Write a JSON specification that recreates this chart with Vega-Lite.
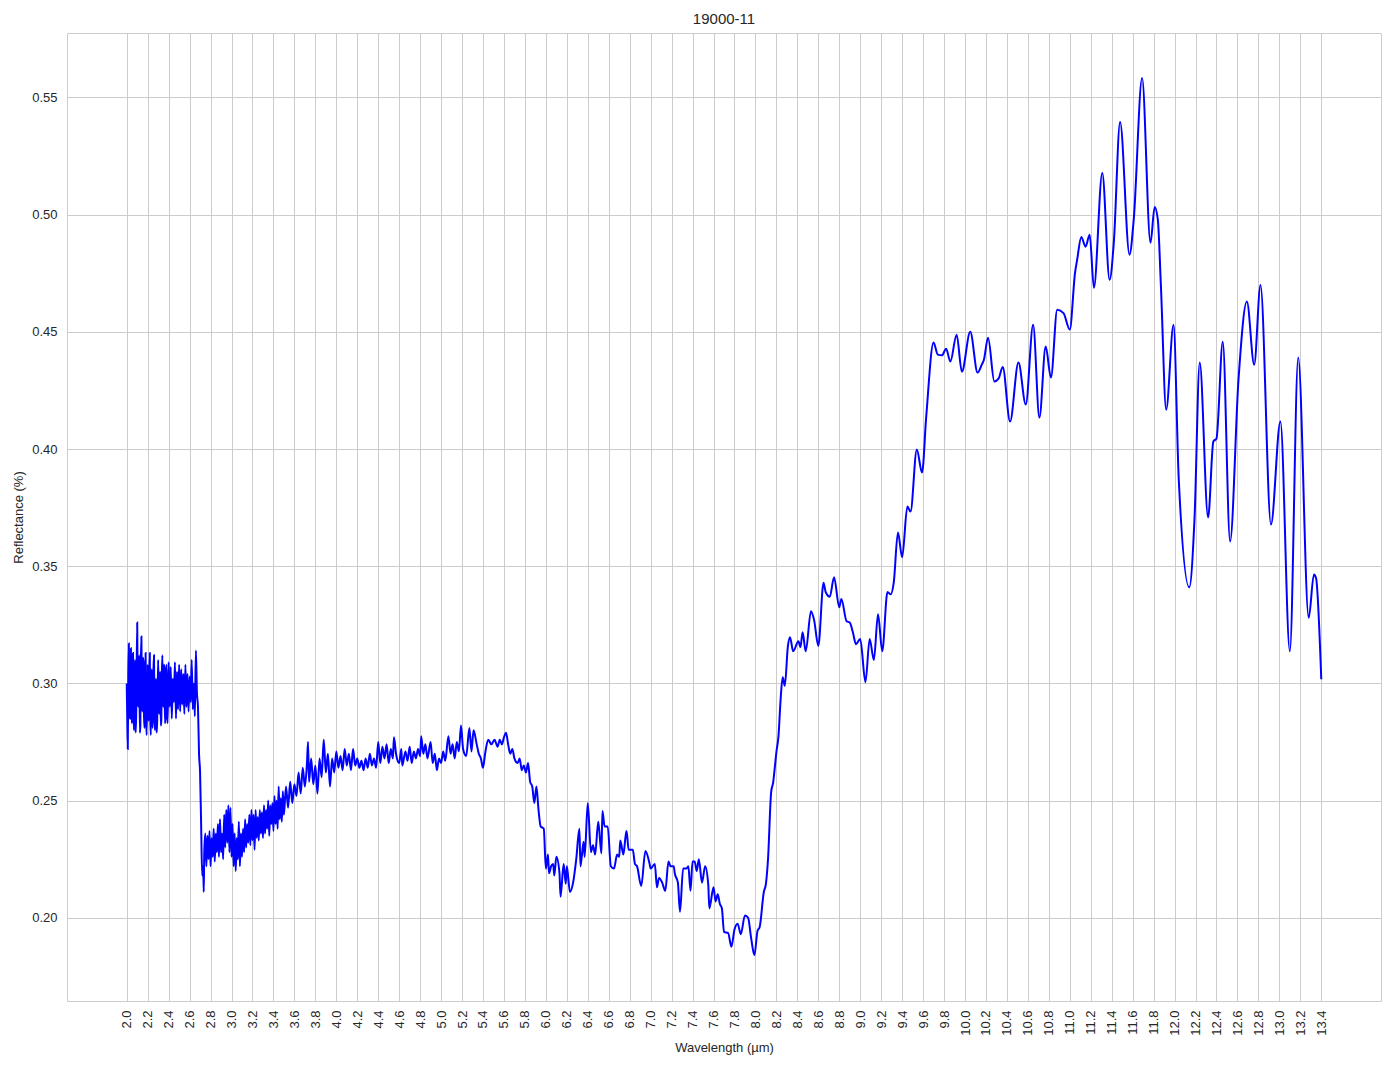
{
  "$schema": "https://vega.github.io/schema/vega-lite/v6.json",
  "width": 1314,
  "height": 968,
  "autosize": {"type": "none"},
  "padding": {"left": 67, "top": 33, "right": 13, "bottom": 68},
  "background": "white",
  "title": {"text": "19000-11", "fontSize": 15, "font": "Liberation Sans", "fontWeight": "normal", "color": "#262626", "offset": 6, "anchor": "middle"},
  "config": {
    "view": {"stroke": "#cccccc", "strokeWidth": 1},
    "axis": {"gridColor": "#cccccc", "gridWidth": 1, "domain": false, "ticks": false, "labelFont": "Liberation Sans", "titleFont": "Liberation Sans", "labelColor": "#262626", "titleColor": "#262626", "labelFontSize": 13, "titleFontSize": 13, "titleFontWeight": "normal"}
  },
  "data": {"values": [
{"w":2.00,"r":0.300},{"w":2.005,"r":0.285},{"w":2.01,"r":0.272},{"w":2.015,"r":0.304},{"w":2.02,"r":0.317},{"w":2.025,"r":0.292},{"w":2.03,"r":0.285},{"w":2.035,"r":0.309},{"w":2.04,"r":0.315},{"w":2.045,"r":0.289},{"w":2.05,"r":0.283},{"w":2.055,"r":0.306},{"w":2.06,"r":0.313},{"w":2.065,"r":0.286},{"w":2.07,"r":0.280},{"w":2.075,"r":0.303},{"w":2.08,"r":0.310},{"w":2.085,"r":0.279},{"w":2.09,"r":0.286},
{"w":2.10,"r":0.326},{"w":2.105,"r":0.296},{"w":2.11,"r":0.290},{"w":2.115,"r":0.305},{"w":2.12,"r":0.312},{"w":2.125,"r":0.279},{"w":2.13,"r":0.282},{"w":2.135,"r":0.309},{"w":2.14,"r":0.320},{"w":2.145,"r":0.293},{"w":2.15,"r":0.288},{"w":2.155,"r":0.311},{"w":2.16,"r":0.309},{"w":2.165,"r":0.286},{"w":2.17,"r":0.281},{"w":2.175,"r":0.300},{"w":2.18,"r":0.313},{"w":2.185,"r":0.285},{"w":2.19,"r":0.278},
{"w":2.20,"r":0.308},{"w":2.205,"r":0.291},{"w":2.21,"r":0.284},{"w":2.215,"r":0.303},{"w":2.22,"r":0.313},{"w":2.225,"r":0.285},{"w":2.23,"r":0.278},{"w":2.235,"r":0.299},{"w":2.24,"r":0.306},{"w":2.245,"r":0.281},{"w":2.25,"r":0.287},{"w":2.255,"r":0.305},{"w":2.26,"r":0.312},{"w":2.265,"r":0.286},{"w":2.27,"r":0.280},{"w":2.275,"r":0.297},{"w":2.28,"r":0.302},{"w":2.285,"r":0.279},{"w":2.29,"r":0.283},
{"w":2.30,"r":0.310},{"w":2.305,"r":0.293},{"w":2.31,"r":0.287},{"w":2.315,"r":0.301},{"w":2.32,"r":0.305},{"w":2.325,"r":0.282},{"w":2.33,"r":0.284},{"w":2.335,"r":0.303},{"w":2.34,"r":0.312},{"w":2.345,"r":0.294},{"w":2.35,"r":0.290},{"w":2.355,"r":0.308},{"w":2.36,"r":0.306},{"w":2.365,"r":0.283},{"w":2.37,"r":0.286},{"w":2.375,"r":0.304},{"w":2.38,"r":0.308},{"w":2.385,"r":0.288},{"w":2.39,"r":0.283},
{"w":2.40,"r":0.309},{"w":2.41,"r":0.290},{"w":2.42,"r":0.307},{"w":2.43,"r":0.285},{"w":2.44,"r":0.302},{"w":2.45,"r":0.292},{"w":2.46,"r":0.309},{"w":2.47,"r":0.285},{"w":2.48,"r":0.305},{"w":2.49,"r":0.289},
{"w":2.50,"r":0.308},{"w":2.51,"r":0.288},{"w":2.52,"r":0.306},{"w":2.53,"r":0.291},{"w":2.54,"r":0.304},{"w":2.55,"r":0.287},{"w":2.56,"r":0.308},{"w":2.57,"r":0.290},{"w":2.58,"r":0.304},{"w":2.59,"r":0.288},
{"w":2.60,"r":0.303},{"w":2.61,"r":0.292},{"w":2.62,"r":0.310},{"w":2.63,"r":0.289},{"w":2.64,"r":0.300},{"w":2.65,"r":0.286},{"w":2.66,"r":0.314},{"w":2.67,"r":0.296},{"w":2.68,"r":0.290},{"w":2.69,"r":0.270},
{"w":2.70,"r":0.262},{"w":2.71,"r":0.240},{"w":2.72,"r":0.218},{"w":2.73,"r":0.222},{"w":2.735,"r":0.211},{"w":2.74,"r":0.228},
{"w":2.75,"r":0.236},{"w":2.76,"r":0.222},{"w":2.77,"r":0.235},{"w":2.78,"r":0.225},{"w":2.79,"r":0.237},{"w":2.80,"r":0.222},{"w":2.81,"r":0.234},{"w":2.82,"r":0.226},{"w":2.83,"r":0.238},{"w":2.84,"r":0.224},
{"w":2.85,"r":0.236},{"w":2.86,"r":0.228},{"w":2.87,"r":0.240},{"w":2.88,"r":0.226},{"w":2.89,"r":0.242},{"w":2.90,"r":0.228},{"w":2.91,"r":0.236},{"w":2.92,"r":0.225},{"w":2.93,"r":0.244},{"w":2.94,"r":0.230},
{"w":2.95,"r":0.246},{"w":2.96,"r":0.232},{"w":2.97,"r":0.248},{"w":2.98,"r":0.228},{"w":2.99,"r":0.247},{"w":3.00,"r":0.226},{"w":3.01,"r":0.240},{"w":3.02,"r":0.222},{"w":3.03,"r":0.236},{"w":3.04,"r":0.220},
{"w":3.05,"r":0.234},{"w":3.06,"r":0.225},{"w":3.07,"r":0.241},{"w":3.08,"r":0.222},{"w":3.09,"r":0.236},{"w":3.10,"r":0.226},{"w":3.11,"r":0.238},{"w":3.12,"r":0.228},{"w":3.13,"r":0.242},{"w":3.14,"r":0.230},
{"w":3.15,"r":0.240},{"w":3.16,"r":0.232},{"w":3.17,"r":0.244},{"w":3.18,"r":0.231},{"w":3.19,"r":0.246},{"w":3.20,"r":0.233},{"w":3.21,"r":0.244},{"w":3.22,"r":0.229},{"w":3.23,"r":0.246},{"w":3.24,"r":0.234},
{"w":3.25,"r":0.243},{"w":3.26,"r":0.233},{"w":3.27,"r":0.246},{"w":3.28,"r":0.236},{"w":3.29,"r":0.245},{"w":3.30,"r":0.234},{"w":3.31,"r":0.248},{"w":3.32,"r":0.236},{"w":3.33,"r":0.246},{"w":3.34,"r":0.238},
{"w":3.35,"r":0.250},{"w":3.36,"r":0.235},{"w":3.37,"r":0.248},{"w":3.38,"r":0.240},{"w":3.39,"r":0.249},{"w":3.40,"r":0.237},{"w":3.41,"r":0.252},{"w":3.42,"r":0.240},{"w":3.43,"r":0.250},{"w":3.44,"r":0.238},
{"w":3.45,"r":0.256},{"w":3.46,"r":0.242},{"w":3.47,"r":0.251},{"w":3.48,"r":0.241},{"w":3.49,"r":0.254},{"w":3.50,"r":0.244},{"w":3.52,"r":0.256},{"w":3.54,"r":0.247},{"w":3.56,"r":0.258},{"w":3.58,"r":0.249},
{"w":3.60,"r":0.257},{"w":3.62,"r":0.252},{"w":3.64,"r":0.262},{"w":3.66,"r":0.253},{"w":3.68,"r":0.264},{"w":3.70,"r":0.256},{"w":3.72,"r":0.266},{"w":3.73,"r":0.275},{"w":3.74,"r":0.258},{"w":3.76,"r":0.268},
{"w":3.78,"r":0.257},{"w":3.80,"r":0.265},{"w":3.82,"r":0.253},{"w":3.84,"r":0.268},{"w":3.86,"r":0.260},{"w":3.88,"r":0.276},{"w":3.90,"r":0.262},{"w":3.92,"r":0.270},{"w":3.94,"r":0.256},{"w":3.96,"r":0.268},
{"w":3.98,"r":0.262},{"w":4.00,"r":0.271},{"w":4.02,"r":0.264},{"w":4.04,"r":0.269},{"w":4.06,"r":0.263},{"w":4.08,"r":0.272},{"w":4.10,"r":0.265},{"w":4.12,"r":0.270},{"w":4.14,"r":0.263},{"w":4.16,"r":0.272},
{"w":4.18,"r":0.265},{"w":4.20,"r":0.268},{"w":4.22,"r":0.264},{"w":4.24,"r":0.267},{"w":4.26,"r":0.263},{"w":4.28,"r":0.268},{"w":4.30,"r":0.264},{"w":4.32,"r":0.270},{"w":4.34,"r":0.265},{"w":4.36,"r":0.268},
{"w":4.38,"r":0.264},{"w":4.40,"r":0.275},{"w":4.42,"r":0.266},{"w":4.44,"r":0.273},{"w":4.46,"r":0.268},{"w":4.48,"r":0.274},{"w":4.50,"r":0.266},{"w":4.52,"r":0.272},{"w":4.54,"r":0.268},{"w":4.55,"r":0.277},
{"w":4.57,"r":0.270},{"w":4.60,"r":0.266},{"w":4.62,"r":0.272},{"w":4.63,"r":0.265},{"w":4.66,"r":0.271},{"w":4.68,"r":0.267},{"w":4.70,"r":0.273},{"w":4.72,"r":0.266},{"w":4.74,"r":0.271},{"w":4.76,"r":0.268},
{"w":4.78,"r":0.272},{"w":4.80,"r":0.269},{"w":4.81,"r":0.2775},{"w":4.83,"r":0.270},{"w":4.85,"r":0.274},{"w":4.87,"r":0.268},{"w":4.90,"r":0.275},{"w":4.92,"r":0.266},{"w":4.94,"r":0.270},{"w":4.96,"r":0.263},
{"w":4.98,"r":0.268},{"w":5.00,"r":0.266},{"w":5.02,"r":0.271},{"w":5.04,"r":0.267},{"w":5.07,"r":0.2775},{"w":5.09,"r":0.270},{"w":5.11,"r":0.274},{"w":5.13,"r":0.268},{"w":5.15,"r":0.275},{"w":5.17,"r":0.271},
{"w":5.19,"r":0.282},{"w":5.21,"r":0.272},{"w":5.24,"r":0.269},{"w":5.27,"r":0.281},{"w":5.29,"r":0.271},{"w":5.31,"r":0.280},{"w":5.34,"r":0.274},{"w":5.36,"r":0.270},{"w":5.38,"r":0.268},{"w":5.40,"r":0.264},
{"w":5.42,"r":0.270},{"w":5.45,"r":0.276},{"w":5.48,"r":0.274},{"w":5.51,"r":0.276},{"w":5.54,"r":0.273},{"w":5.56,"r":0.276},{"w":5.58,"r":0.274},{"w":5.60,"r":0.277},{"w":5.62,"r":0.279},{"w":5.64,"r":0.274},
{"w":5.66,"r":0.270},{"w":5.68,"r":0.272},{"w":5.70,"r":0.268},{"w":5.73,"r":0.266},{"w":5.75,"r":0.268},{"w":5.77,"r":0.263},{"w":5.79,"r":0.265},{"w":5.81,"r":0.262},{"w":5.83,"r":0.266},{"w":5.85,"r":0.258},
{"w":5.87,"r":0.256},{"w":5.89,"r":0.249},{"w":5.91,"r":0.256},{"w":5.93,"r":0.246},{"w":5.95,"r":0.239},{"w":5.98,"r":0.238},{"w":6.00,"r":0.221},{"w":6.02,"r":0.227},{"w":6.03,"r":0.219},{"w":6.05,"r":0.222},
{"w":6.07,"r":0.223},{"w":6.08,"r":0.218},{"w":6.10,"r":0.226},{"w":6.13,"r":0.219},{"w":6.14,"r":0.209},{"w":6.17,"r":0.223},{"w":6.19,"r":0.2145},{"w":6.20,"r":0.222},{"w":6.23,"r":0.211},{"w":6.26,"r":0.215},
{"w":6.29,"r":0.225},{"w":6.32,"r":0.238},{"w":6.33,"r":0.222},{"w":6.36,"r":0.2324},{"w":6.37,"r":0.226},{"w":6.40,"r":0.249},{"w":6.43,"r":0.228},{"w":6.45,"r":0.231},{"w":6.47,"r":0.227},{"w":6.50,"r":0.241},
{"w":6.53,"r":0.2275},{"w":6.54,"r":0.2456},{"w":6.56,"r":0.239},{"w":6.59,"r":0.239},{"w":6.62,"r":0.222},{"w":6.65,"r":0.221},{"w":6.68,"r":0.227},{"w":6.70,"r":0.226},{"w":6.71,"r":0.233},{"w":6.74,"r":0.227},
{"w":6.76,"r":0.2345},{"w":6.77,"r":0.237},{"w":6.79,"r":0.229},{"w":6.83,"r":0.229},{"w":6.85,"r":0.223},{"w":6.87,"r":0.222},{"w":6.91,"r":0.2136},{"w":6.95,"r":0.2285},{"w":6.99,"r":0.223},{"w":7.00,"r":0.221},
{"w":7.04,"r":0.223},{"w":7.06,"r":0.213},{"w":7.08,"r":0.217},{"w":7.11,"r":0.215},{"w":7.14,"r":0.2115},{"w":7.17,"r":0.224},{"w":7.19,"r":0.222},{"w":7.22,"r":0.222},{"w":7.23,"r":0.219},{"w":7.26,"r":0.215},
{"w":7.28,"r":0.2026},{"w":7.31,"r":0.221},{"w":7.34,"r":0.221},{"w":7.36,"r":0.222},{"w":7.38,"r":0.2115},{"w":7.40,"r":0.224},{"w":7.42,"r":0.224},{"w":7.44,"r":0.220},{"w":7.46,"r":0.225},{"w":7.49,"r":0.215},
{"w":7.52,"r":0.222},{"w":7.55,"r":0.214},{"w":7.56,"r":0.204},{"w":7.60,"r":0.213},{"w":7.62,"r":0.207},{"w":7.64,"r":0.210},{"w":7.66,"r":0.206},{"w":7.68,"r":0.204},{"w":7.70,"r":0.194},{"w":7.74,"r":0.1935},
{"w":7.77,"r":0.1876},{"w":7.80,"r":0.195},{"w":7.83,"r":0.1975},{"w":7.86,"r":0.193},{"w":7.90,"r":0.201},{"w":7.93,"r":0.200},{"w":7.96,"r":0.191},{"w":7.99,"r":0.184},{"w":8.02,"r":0.1945},{"w":8.04,"r":0.196},
{"w":8.08,"r":0.211},{"w":8.10,"r":0.2145},{"w":8.12,"r":0.225},{"w":8.15,"r":0.2536},{"w":8.17,"r":0.258},{"w":8.18,"r":0.262},{"w":8.20,"r":0.2707},{"w":8.22,"r":0.2775},{"w":8.24,"r":0.293},{"w":8.26,"r":0.3026},
{"w":8.28,"r":0.299},{"w":8.31,"r":0.316},{"w":8.33,"r":0.3197},{"w":8.36,"r":0.3137},{"w":8.41,"r":0.318},{"w":8.43,"r":0.3155},{"w":8.45,"r":0.3218},{"w":8.48,"r":0.3137},{"w":8.53,"r":0.3308},{"w":8.56,"r":0.327},
{"w":8.60,"r":0.316},{"w":8.65,"r":0.343},{"w":8.67,"r":0.339},{"w":8.71,"r":0.337},{"w":8.75,"r":0.3453},{"w":8.80,"r":0.3325},{"w":8.82,"r":0.336},{"w":8.87,"r":0.3265},{"w":8.90,"r":0.326},{"w":8.93,"r":0.3218},
{"w":8.96,"r":0.3167},{"w":9.00,"r":0.319},{"w":9.05,"r":0.3005},{"w":9.09,"r":0.319},{"w":9.13,"r":0.310},{"w":9.17,"r":0.3295},{"w":9.21,"r":0.3137},{"w":9.26,"r":0.339},{"w":9.29,"r":0.338},{"w":9.32,"r":0.343},
{"w":9.36,"r":0.3644},{"w":9.40,"r":0.3538},{"w":9.45,"r":0.3755},{"w":9.48,"r":0.3733},{"w":9.54,"r":0.3998},{"w":9.59,"r":0.390},{"w":9.63,"r":0.4139},{"w":9.70,"r":0.4454},{"w":9.74,"r":0.4403},{"w":9.78,"r":0.4400},
{"w":9.82,"r":0.4428},{"w":9.86,"r":0.4373},{"w":9.92,"r":0.4488},{"w":9.97,"r":0.433},{"w":10.05,"r":0.450},{"w":10.12,"r":0.4326},{"w":10.16,"r":0.436},{"w":10.18,"r":0.438},{"w":10.22,"r":0.4475},{"w":10.28,"r":0.4288},
{"w":10.32,"r":0.430},{"w":10.36,"r":0.435},{"w":10.43,"r":0.4117},{"w":10.51,"r":0.4369},{"w":10.58,"r":0.419},{"w":10.65,"r":0.453},{"w":10.71,"r":0.4134},{"w":10.77,"r":0.4437},{"w":10.82,"r":0.4305},{"w":10.88,"r":0.4594},
{"w":10.94,"r":0.458},{"w":11.00,"r":0.451},{"w":11.05,"r":0.4752},{"w":11.07,"r":0.4807},{"w":11.11,"r":0.4905},{"w":11.15,"r":0.4863},{"w":11.19,"r":0.4914},{"w":11.23,"r":0.4688},{"w":11.31,"r":0.5178},{"w":11.38,"r":0.4722},
{"w":11.42,"r":0.488},{"w":11.48,"r":0.5395},{"w":11.57,"r":0.4829},{"w":11.61,"r":0.4978},{"w":11.69,"r":0.5583},{"w":11.77,"r":0.488},{"w":11.81,"r":0.5033},{"w":11.84,"r":0.498},{"w":11.87,"r":0.4692},{"w":11.92,"r":0.4168},
{"w":11.99,"r":0.453},{"w":12.04,"r":0.387},{"w":12.14,"r":0.341},{"w":12.19,"r":0.370},{"w":12.24,"r":0.4369},{"w":12.32,"r":0.3708},{"w":12.37,"r":0.4032},{"w":12.40,"r":0.4045},{"w":12.46,"r":0.4458},{"w":12.53,"r":0.3606},
{"w":12.61,"r":0.4296},{"w":12.69,"r":0.4629},{"w":12.76,"r":0.436},{"w":12.82,"r":0.470},{"w":12.92,"r":0.3678},{"w":13.01,"r":0.4117},{"w":13.10,"r":0.3137},{"w":13.18,"r":0.439},{"w":13.28,"r":0.328},{"w":13.33,"r":0.3465},
{"w":13.35,"r":0.345},{"w":13.40,"r":0.3018}
  ]},
  "mark": {"type": "line", "color": "#0000ff", "strokeWidth": 2, "interpolate": "monotone", "clip": true},
  "encoding": {
    "x": {"field": "w", "type": "quantitative", "scale": {"domain": [1.43, 13.97], "nice": false, "zero": false},
      "axis": {"title": "Wavelength (µm)", "values": [2.0,2.2,2.4,2.6,2.8,3.0,3.2,3.4,3.6,3.8,4.0,4.2,4.4,4.6,4.8,5.0,5.2,5.4,5.6,5.8,6.0,6.2,6.4,6.6,6.8,7.0,7.2,7.4,7.6,7.8,8.0,8.2,8.4,8.6,8.8,9.0,9.2,9.4,9.6,9.8,10.0,10.2,10.4,10.6,10.8,11.0,11.2,11.4,11.6,11.8,12.0,12.2,12.4,12.6,12.8,13.0,13.2,13.4], "format": ".1f", "labelAngle": -90, "labelPadding": 9, "titlePadding": 6}},
    "y": {"field": "r", "type": "quantitative", "scale": {"domain": [0.1645, 0.5775], "nice": false, "zero": false},
      "axis": {"title": "Reflectance (%)", "values": [0.20,0.25,0.30,0.35,0.40,0.45,0.50,0.55], "format": ".2f", "labelPadding": 10, "titlePadding": 6}}
  }
}
